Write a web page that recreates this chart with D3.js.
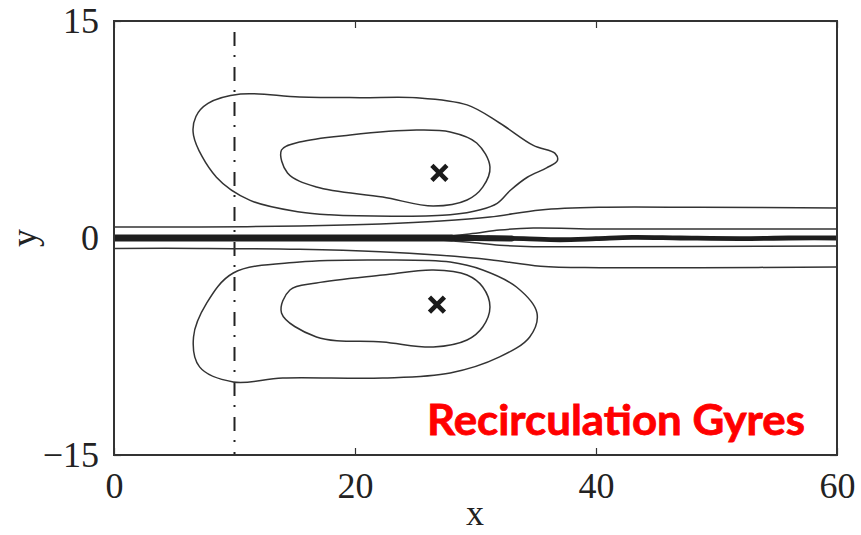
<!DOCTYPE html>
<html lang="en">
<head>
<meta charset="UTF-8">
<script src="https://d3js.org/d3.v7.min.js"></script>
<style>
    body { margin: 0; background: #fff; }
    .tick text { font-family: "Liberation Serif", "DejaVu Serif", serif; font-size: 36px; fill: #222; }
</style>
</head>
<body>
<svg id="chart" width="861" height="535"></svg>
<script>
// axis ticks
const xTicks = [0, 20, 40, 60];
const yTicks = [-15, 0, 15];

// streamline contours, in (x, y) data units
const upperOuter = [[6.6,7.1],[6.8,8.4],[7.8,9.3],[10.5,9.95],[15.4,9.75],[20.4,9.7],[25.1,9.7],[29.3,9.2],[32.0,7.95],[34.8,6.4],[36.6,5.85],[36.8,5.35],[35.9,4.85],[34.3,4.2],[32.9,3.3],[31.8,2.4],[30.4,1.95],[27.9,1.6],[23.7,1.5],[17.9,1.6],[15.4,1.8],[11.3,2.6],[8.5,4.2]];
const upperInner = [[13.9,6.08],[15.4,6.63],[19.6,7.12],[25.1,7.46],[27.9,7.33],[30.1,6.57],[31.2,4.91],[30.6,3.52],[29.3,2.63],[26.5,2.21],[22.3,2.83],[16.8,3.52],[14.4,4.49]];
const lowerOuter = [[9.9,-2.42],[15.4,-1.66],[22.3,-1.52],[27.9,-1.66],[30.6,-2.21],[33.4,-3.39],[35.1,-5.18],[34.5,-6.84],[32.0,-8.22],[27.9,-9.33],[22.3,-9.68],[14.0,-9.68],[9.9,-9.95],[7.1,-8.91],[6.6,-6.84],[7.7,-4.49]];
const lowerInner = [[14.6,-3.59],[16.8,-3.11],[22.3,-2.56],[26.5,-2.21],[29.3,-2.56],[30.6,-3.39],[31.2,-4.77],[30.6,-6.15],[29.3,-7.05],[26.5,-7.53],[22.3,-7.19],[16.8,-6.84],[13.9,-5.18]];

// open streamlines along the jet
const upperB = [[0,0.76],[7.1,0.76],[15.4,0.83],[22.1,0.97],[27.1,1.17],[31.2,1.45],[35.4,1.94],[40.3,2.12],[48.6,2.12],[60,2.07]];
const upperA = [[26.2,0.07],[29.5,0.28],[32.0,0.55],[34.8,0.69],[40.3,0.62],[48.6,0.62],[60,0.62]];
const lowerB = [[0,-0.72],[7.1,-0.72],[15.4,-0.78],[22.1,-0.95],[27.1,-1.2],[31.2,-1.5],[35.4,-1.95],[40.3,-2.05],[48.6,-2.05],[60,-2.0]];
const lowerA = [[26.2,-0.07],[29.5,-0.3],[32.0,-0.5],[34.8,-0.6],[40.3,-0.6],[48.6,-0.58],[60,-0.55]];
const centerLeft = [[-1,0],[10,0],[20,0],[28,0]];
const centerMid = [[26,0],[30,0],[33,-0.03]];
const centerRight = [[31,0],[34,-0.05],[37,-0.12],[40,-0.05],[43,0.04],[47,0],[52,-0.04],[56,0],[61,0]];

// vortex centres
const gyreCentres = [[27.0, 4.5], [26.8, -4.6]];
const inletX = 10;
const label = "Recirculation Gyres";

const svg = d3.select('#chart');
const x = d3.scaleLinear().domain([0, 60]).range([114, 837]);
const y = d3.scaleLinear().domain([-15, 15]).range([455, 21]);

const ink = "#333";

svg.append("defs").append("clipPath").attr("id", "plotClip")
    .append("rect").attr("x", 114).attr("y", 21).attr("width", 723).attr("height", 434);

// ticks (inward, on all four sides)
const gx = svg.append("g").attr("transform", "translate(0,455)")
    .call(d3.axisBottom(x).tickValues(xTicks).tickSize(-7).tickSizeOuter(0).tickPadding(17));
gx.selectAll("text").attr("dy", "0.71em");
svg.append("g").attr("transform", "translate(0,21)")
    .call(d3.axisTop(x).tickValues(xTicks).tickSize(-7).tickSizeOuter(0).tickFormat(""));
const gy = svg.append("g").attr("transform", "translate(114,0)")
    .call(d3.axisLeft(y).tickValues(yTicks).tickSize(-7).tickSizeOuter(0).tickPadding(15)
        .tickFormat(d => d < 0 ? "\u2212" + Math.abs(d) : d));
svg.append("g").attr("transform", "translate(837,0)")
    .call(d3.axisRight(y).tickValues(yTicks).tickSize(-7).tickSizeOuter(0).tickFormat(""));
svg.selectAll(".domain").remove();
svg.selectAll(".tick line").attr("stroke", ink).attr("stroke-width", 1.2);

// axis names
svg.append("text")
    .attr("x", 475).attr("y", 525)
    .attr("text-anchor", "middle")
    .attr("font-family", "Liberation Serif, serif").attr("font-size", 36).attr("fill", "#222")
    .text("x");
svg.append("text")
    .attr("transform", "translate(36,238) rotate(-90)")
    .attr("text-anchor", "middle")
    .attr("font-family", "Liberation Serif, serif").attr("font-size", 36).attr("fill", "#222")
    .text("y");

const plot = svg.append("g").attr("clip-path", "url(#plotClip)");

// dash-dot line at the inlet
plot.append("line")
    .attr("x1", x(inletX)).attr("x2", x(inletX))
    .attr("y1", y(15)).attr("y2", y(-15))
    .attr("stroke", "#222").attr("stroke-width", 2)
    .attr("stroke-dasharray", "14,9,2,10").attr("stroke-dashoffset", 24);

// contours
const closed = d3.line().x(d => x(d[0])).y(d => y(d[1])).curve(d3.curveCatmullRomClosed.alpha(0.5));
const open = d3.line().x(d => x(d[0])).y(d => y(d[1])).curve(d3.curveCatmullRom.alpha(0.5));

[upperOuter, upperInner, lowerOuter, lowerInner].forEach(c => {
    plot.append("path").attr("d", closed(c))
        .attr("fill", "none").attr("stroke", ink).attr("stroke-width", 1.5);
});
[upperB, upperA, lowerB, lowerA].forEach(c => {
    plot.append("path").attr("d", open(c))
        .attr("fill", "none").attr("stroke", ink).attr("stroke-width", 1.5);
});

// the jet centreline, thinning downstream
[[centerRight, 4.8], [centerMid, 6], [centerLeft, 7]].forEach(([c, w]) => {
    plot.append("path").attr("d", open(c))
        .attr("fill", "none").attr("stroke", "#1e1e1e").attr("stroke-width", w)
        .attr("stroke-linecap", "round");
});

// gyre centre markers
gyreCentres.forEach(c => {
    const cx = x(c[0]), cy = y(c[1]), s = 7.5;
    plot.append("path")
        .attr("d", `M${cx - s},${cy - s}L${cx + s},${cy + s}M${cx - s},${cy + s}L${cx + s},${cy - s}`)
        .attr("stroke", "#1a1a1a").attr("stroke-width", 4.6).attr("fill", "none");
});

// frame
svg.append("rect")
    .attr("x", 114).attr("y", 21).attr("width", 723).attr("height", 434)
    .attr("fill", "none").attr("stroke", ink).attr("stroke-width", 2);

// annotation
svg.append("text")
    .attr("x", 427).attr("y", 435)
    .attr("font-family", "Lato, 'Open Sans', sans-serif").attr("font-weight", "bold")
    .attr("font-size", 42).attr("fill", "#ff0000")
    .attr("stroke", "#ff0000").attr("stroke-width", 0.8)
    .attr("textLength", 378).attr("lengthAdjust", "spacingAndGlyphs")
    .text(label);
</script>
</body>
</html>
